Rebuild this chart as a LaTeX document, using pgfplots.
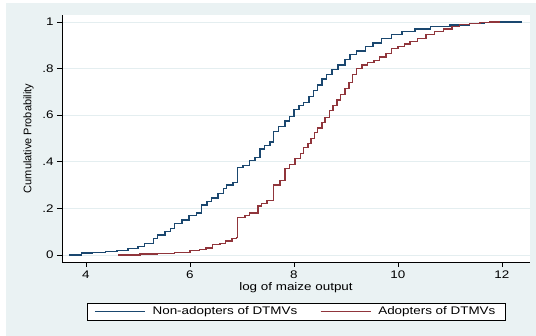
\documentclass[border=0pt]{standalone}
\usepackage{pgfplots}
\pgfplotsset{compat=1.18}
\usepackage{fontspec}
\setmainfont{Liberation Sans}[FakeStretch=1.22]
\newfontfamily\plainfont{Liberation Sans}
\definecolor{stnavy}{HTML}{1A476F}
\definecolor{stmaroon}{HTML}{90353B}
\definecolor{stbg}{HTML}{EAF2F3}
\definecolor{stgrid}{HTML}{E4EEF0}
\begin{document}
\begin{tikzpicture}[x=1pt,y=1pt]
\useasboundingbox (0,0) rectangle (536,336);
\fill[white] (0,0) rectangle (536,336);
\fill[stbg] (6,0) rectangle (536,333);
\begin{axis}[
 at={(62pt,74pt)}, anchor=south west,
 scale only axis, width=468pt, height=247pt,
 xmin=3.54, xmax=12.54, ymin=-0.03, ymax=1.03,
 axis background/.style={fill=white},
 axis x line*=bottom, axis y line*=left,
 axis line style={black, line width=0.8pt, -},
 xtick={4,6,8,10,12}, ytick={0,0.2,0.4,0.6,0.8,1},
 xticklabels={4,6,8,10,12},
 yticklabels={0,.2,.4,.6,.8,1},
 tick align=outside, major tick length=5pt,
 tick style={black, line width=0.8pt},
 ymajorgrids, grid style={stgrid, line width=0.8pt},
 font=\fontsize{11}{13}\selectfont,
 /pgf/number format/assume math mode=true,
 xlabel={log of maize output},
 ylabel={\plainfont Cumulative Probability},
 xlabel style={at={(axis description cs:0.5,-0.1174)}, anchor=base},
 ylabel style={at={(axis description cs:-0.0652,0.5)}, anchor=base},
 legend style={at={(axis description cs:0.5,-0.2004)}, anchor=center,
   legend columns=2, draw=black, fill=white, font=\fontsize{11}{13}\selectfont,
   inner xsep=7.5pt, inner ysep=2pt, legend cell align=left},
 legend image code/.code={\draw[#1, line width=0.8pt] (0pt,0pt) -- (50pt,0pt); \path (55pt,0pt);},
 clip=true,
]
\addplot[const plot, stnavy, line width=1.25pt] coordinates {
(3.67,0) (3.92,0.009) (4.12,0.012) (4.37,0.015) (4.60,0.02) (4.81,0.027)
(5.00,0.035) (5.13,0.05) (5.30,0.07) (5.37,0.086) (5.52,0.10) (5.62,0.115)
(5.71,0.135) (5.85,0.15) (5.98,0.17) (6.12,0.18) (6.22,0.215) (6.33,0.23)
(6.42,0.245) (6.54,0.265) (6.65,0.285) (6.71,0.30) (6.83,0.31) (6.91,0.375)
(7.02,0.385) (7.15,0.405) (7.25,0.42) (7.35,0.455) (7.44,0.47) (7.54,0.485)
(7.61,0.53) (7.71,0.55) (7.83,0.575) (7.92,0.595) (8.00,0.625) (8.10,0.64)
(8.19,0.655) (8.29,0.68) (8.37,0.705) (8.46,0.73) (8.54,0.755) (8.63,0.775)
(8.73,0.795) (8.85,0.815) (8.98,0.84) (9.08,0.86) (9.21,0.875) (9.37,0.895)
(9.52,0.91) (9.69,0.93) (9.88,0.945) (10.08,0.958) (10.33,0.97) (10.62,0.98)
(11.00,0.987) (11.38,0.994) (11.67,0.998) (11.96,1.0) (12.38,1.0)
};
\addlegendentry{Non-adopters of DTMVs\makebox[21pt]{}}
\addplot[const plot, stmaroon, line width=1.25pt] coordinates {
(4.62,0) (5.04,0.004) (5.38,0.008) (5.71,0.012) (6.00,0.018) (6.19,0.024)
(6.31,0.03) (6.44,0.045) (6.58,0.05) (6.69,0.06) (6.81,0.07) (6.90,0.075)
(6.92,0.16) (7.06,0.17) (7.15,0.18) (7.31,0.21) (7.38,0.22) (7.48,0.235)
(7.61,0.30) (7.73,0.32) (7.83,0.37) (7.92,0.39) (8.02,0.415) (8.12,0.435)
(8.19,0.46) (8.27,0.48) (8.33,0.50) (8.40,0.525) (8.46,0.545) (8.54,0.57)
(8.60,0.59) (8.69,0.62) (8.75,0.64) (8.83,0.665) (8.90,0.69) (8.98,0.715)
(9.06,0.74) (9.13,0.775) (9.21,0.80) (9.31,0.815) (9.42,0.825) (9.54,0.835)
(9.65,0.85) (9.77,0.865) (9.88,0.885) (10.00,0.895) (10.12,0.905) (10.23,0.915)
(10.38,0.93) (10.54,0.945) (10.71,0.958) (10.88,0.97) (11.04,0.98) (11.19,0.99)
(11.38,0.995) (11.58,0.998) (11.77,1.0) (11.96,1.0)
};
\addlegendentry{Adopters of DTMVs}
\end{axis}
\end{tikzpicture}
\end{document}
